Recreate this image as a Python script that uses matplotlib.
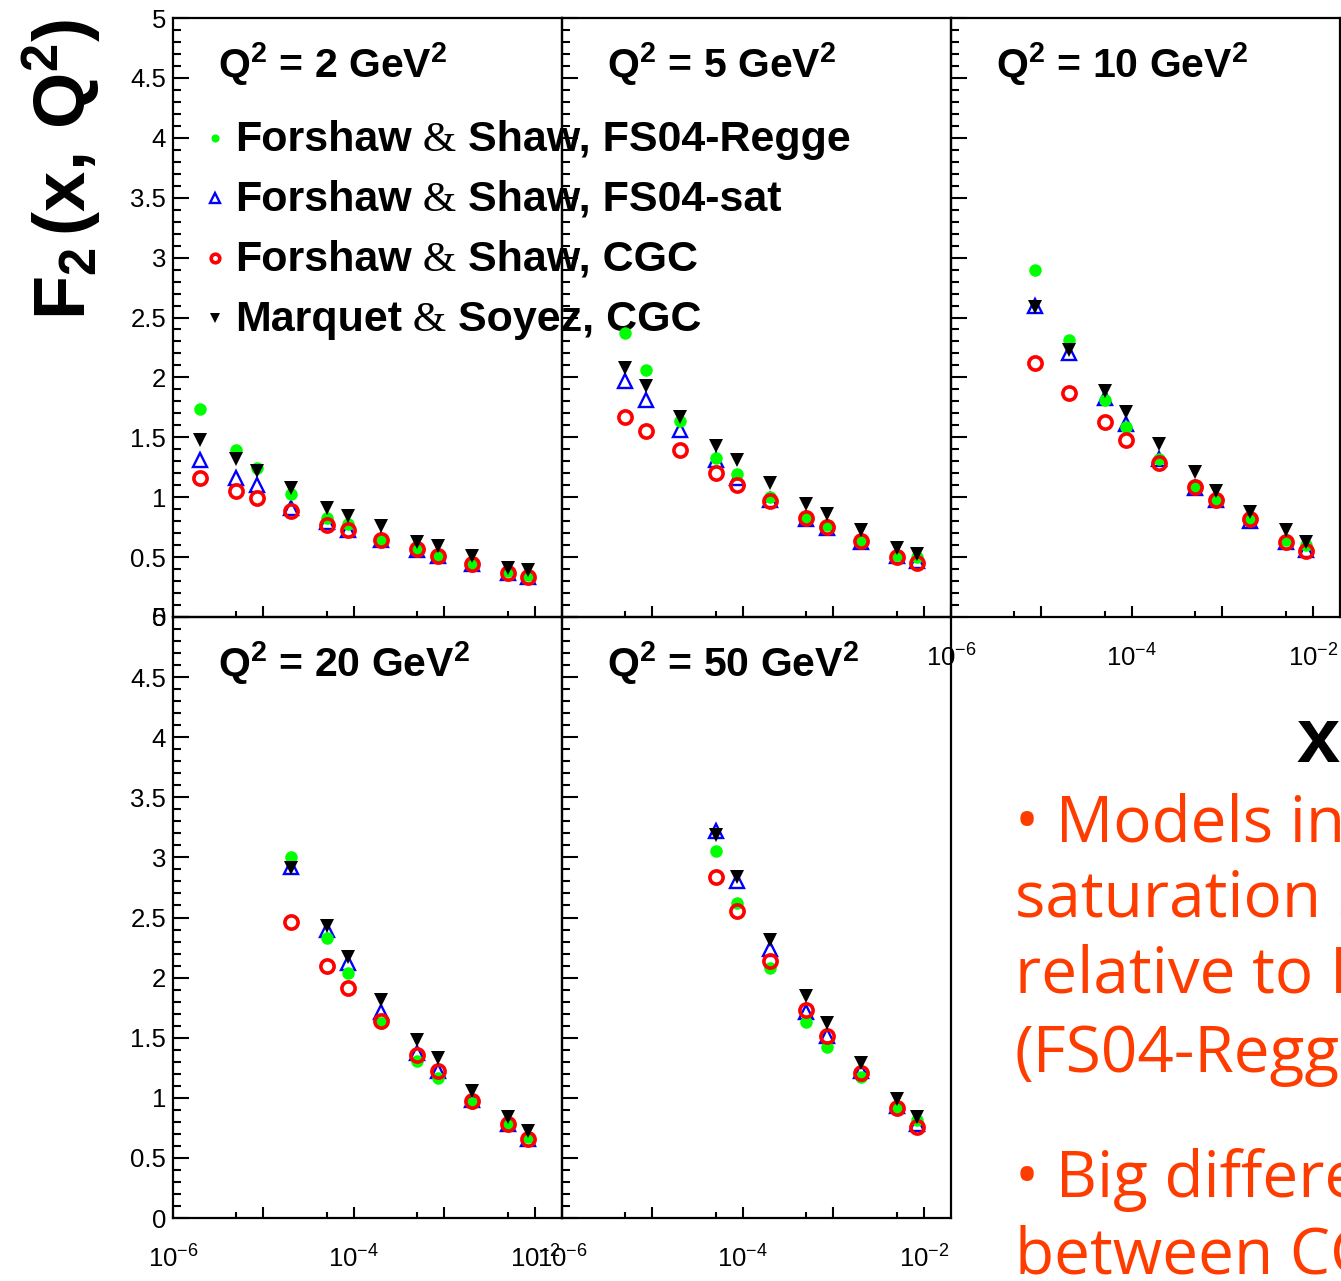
import numpy as np
import matplotlib
matplotlib.use('Agg')
import matplotlib.pyplot as plt
from matplotlib.ticker import MultipleLocator, LogLocator, FuncFormatter, NullFormatter

plt.rcParams['font.family'] = ['Liberation Sans', 'DejaVu Sans']
plt.rcParams['mathtext.fontset'] = 'custom'
plt.rcParams['mathtext.rm'] = 'Liberation Sans'
plt.rcParams['mathtext.bf'] = 'Liberation Sans:bold'
plt.rcParams['mathtext.it'] = 'Liberation Sans:italic'

# x bins shared by all panels; each Q^2 starts at a different bin
x_bins = [2e-6, 5e-6, 8.5e-6, 2e-5, 5e-5, 8.5e-5, 2e-4, 5e-4, 8.5e-4, 2e-3, 5e-3, 8.5e-3]
q2_values = [2, 5, 10, 20, 50]
first_bin = [0, 1, 2, 3, 4]

# F2 predictions, one list per Q^2 panel
f2_fs_regge = [
    [1.74, 1.39, 1.24, 1.03, 0.83, 0.78, 0.64, 0.57, 0.52, 0.45, 0.385, 0.35],
    [2.37, 2.06, 1.64, 1.33, 1.19, 1.00, 0.835, 0.77, 0.64, 0.52, 0.50],
    [2.90, 2.31, 1.81, 1.59, 1.32, 1.08, 0.98, 0.81, 0.64, 0.60],
    [3.00, 2.33, 2.04, 1.62, 1.31, 1.165, 0.96, 0.77, 0.67],
    [3.05, 2.62, 2.08, 1.63, 1.42, 1.17, 0.915, 0.815],
]
f2_fs_sat = [
    [1.31, 1.16, 1.10, 0.91, 0.79, 0.73, 0.64, 0.56, 0.51, 0.44, 0.37, 0.33],
    [1.97, 1.81, 1.56, 1.31, 1.16, 0.98, 0.82, 0.74, 0.63, 0.51, 0.47],
    [2.60, 2.20, 1.83, 1.61, 1.32, 1.08, 0.98, 0.80, 0.63, 0.56],
    [2.92, 2.40, 2.12, 1.71, 1.37, 1.22, 0.98, 0.78, 0.66],
    [3.22, 2.80, 2.24, 1.71, 1.51, 1.22, 0.93, 0.78],
]
f2_fs_cgc = [
    [1.16, 1.05, 0.99, 0.885, 0.77, 0.726, 0.64, 0.57, 0.51, 0.44, 0.37, 0.335],
    [1.67, 1.55, 1.39, 1.20, 1.10, 0.97, 0.83, 0.75, 0.635, 0.50, 0.45],
    [2.12, 1.87, 1.63, 1.48, 1.285, 1.085, 0.98, 0.82, 0.63, 0.55],
    [2.46, 2.10, 1.91, 1.64, 1.36, 1.22, 0.97, 0.78, 0.66],
    [2.84, 2.55, 2.14, 1.73, 1.51, 1.21, 0.915, 0.76],
]
f2_ms_cgc = [
    [1.48, 1.32, 1.22, 1.08, 0.91, 0.84, 0.76, 0.63, 0.59, 0.51, 0.41, 0.39],
    [2.08, 1.93, 1.67, 1.43, 1.31, 1.12, 0.94, 0.86, 0.73, 0.58, 0.53],
    [2.59, 2.23, 1.89, 1.71, 1.44, 1.21, 1.05, 0.88, 0.73, 0.63],
    [2.91, 2.43, 2.17, 1.81, 1.48, 1.33, 1.06, 0.84, 0.72],
    [3.19, 2.84, 2.31, 1.85, 1.62, 1.29, 0.99, 0.84],
]

legend_parts = [
    ('Forshaw', 'Shaw, FS04-Regge'),
    ('Forshaw', 'Shaw, FS04-sat'),
    ('Forshaw', 'Shaw, CGC'),
    ('Marquet', 'Soyez, CGC'),
]

note_lines = ['\u2022 Models include', 'saturation suppress', 'relative to Regge',
              '(FS04-Regge)', '\u2022 Big difference', 'between CGC models']

W, H = 1341, 1281
fig = plt.figure(figsize=(W / 100, H / 100), dpi=100, facecolor='white')

# panel frames in pixels: left, top, width, height
frames = [(173, 18, 389, 599), (562, 18, 389, 599), (951, 18, 389, 599),
          (173, 617, 389, 601), (562, 617, 389, 601)]

styles = {
    'sat': dict(marker='^', mfc='none', mec='#0000ff', mew=1.7, ms=10.5, zorder=2),
    'regge': dict(marker='o', mfc='#00ff00', mec='#00ff00', mew=0, ms=9, zorder=3),
    'cgc': dict(marker='o', mfc='none', mec='#ff0000', mew=2.6, ms=9.5, zorder=4),
    'ms': dict(marker='v', mfc='black', mec='black', mew=0, ms=10.5, zorder=5),
}


def exp_label(v, pos):
    e = int(round(np.log10(v)))
    if e in (-6, -4, -2):
        return r'$\mathrm{10^{%d}}$' % e
    return ''


axes = []
for i, (l, t, w, h) in enumerate(frames):
    ax = fig.add_axes([l / W, 1 - (t + h) / H, w / W, h / H])
    ax.patch.set_visible(False)
    ax.set_xscale('log')
    ax.set_xlim(1e-6, 2e-2)
    ax.set_ylim(0, 5)
    for s in ax.spines.values():
        s.set_linewidth(1.6)
    ax.yaxis.set_major_locator(MultipleLocator(0.5))
    ax.yaxis.set_minor_locator(MultipleLocator(0.1))
    ax.xaxis.set_major_locator(LogLocator(base=10, numticks=10))
    ax.xaxis.set_minor_locator(LogLocator(base=10, subs=[5.0], numticks=10))
    ax.xaxis.set_minor_formatter(NullFormatter())
    ax.tick_params(axis='y', which='major', direction='in', length=11.5, width=1.5,
                   labelsize=18.5, pad=5, left=True, right=False)
    ax.tick_params(axis='y', which='minor', direction='in', length=6, width=1.5,
                   left=True, right=False)
    ax.tick_params(axis='x', which='major', direction='in', length=8, width=1.5,
                   labelsize=18.5, pad=20, top=False)
    ax.tick_params(axis='x', which='minor', direction='in', length=4.5, width=1.5, top=False)
    if i in (0, 3):
        ax.yaxis.set_major_formatter(FuncFormatter(lambda v, p: f'{v:g}'))
    else:
        ax.yaxis.set_major_formatter(NullFormatter())
    if i in (2, 3, 4):
        ax.xaxis.set_major_formatter(FuncFormatter(exp_label))
    else:
        ax.xaxis.set_major_formatter(NullFormatter())

    xs = x_bins[first_bin[i]:]
    ax.plot(xs, f2_fs_sat[i], ls='none', **styles['sat'])
    ax.plot(xs, f2_fs_regge[i], ls='none', **styles['regge'])
    ax.plot(xs, f2_fs_cgc[i], ls='none', **styles['cgc'])
    ax.plot(xs, f2_ms_cgc[i], ls='none', **styles['ms'])

    ax.text(0.116, 0.9, 'Q$^{\\mathbf{2}}$ = %d GeV$^{\\mathbf{2}}$' % q2_values[i],
            transform=ax.transAxes, fontsize=29.5, fontweight='bold', va='baseline')
    axes.append(ax)

# legend drawn by hand inside the first panel, running over into the second
ax0 = axes[0]
legend_keys = ['regge', 'sat', 'cgc', 'ms']
for k, (key, (name1, name2)) in enumerate(zip(legend_keys, legend_parts)):
    base = 0.778 - k * 0.1
    st = dict(styles[key])
    st['ms'] = st['ms'] * 0.65
    st['zorder'] = 10
    ax0.plot([0.108], [base + 0.0217], transform=ax0.transAxes, clip_on=False, ls='none', **st)
    t1 = ax0.text(0.159, base, name1, transform=ax0.transAxes, fontsize=31,
                  fontweight='bold', va='baseline', zorder=10)
    t2 = ax0.annotate(' &', xy=(1, 0), xycoords=t1, va='bottom', ha='left',
                      fontsize=31, family='Liberation Serif', fontweight='normal',
                      annotation_clip=False, zorder=10)
    ax0.annotate(' ' + name2, xy=(1, 0), xycoords=t2, va='bottom', ha='left',
                 fontsize=31, fontweight='bold', annotation_clip=False, zorder=10)

fig.text(62 / W, 1 - 170 / H, r'$\mathbf{F_{2}\,(x,\,Q^{2})}$', rotation=90,
         ha='center', va='center', fontsize=52)
fig.text(1340 / W, 1 - 762 / H, 'x', ha='right', va='baseline', fontsize=56,
         fontweight='bold')

note_pos = [(1015, 841), (1015, 917), (1015, 993), (1015, 1072), (1015, 1197), (1015, 1273)]
for (px, py), line in zip(note_pos, note_lines):
    fig.text(px / W, 1 - py / H, line, ha='left', va='baseline', fontsize=46,
             family='Open Sans', color='#ff3c00')

fig.savefig('out.png', dpi=100)
